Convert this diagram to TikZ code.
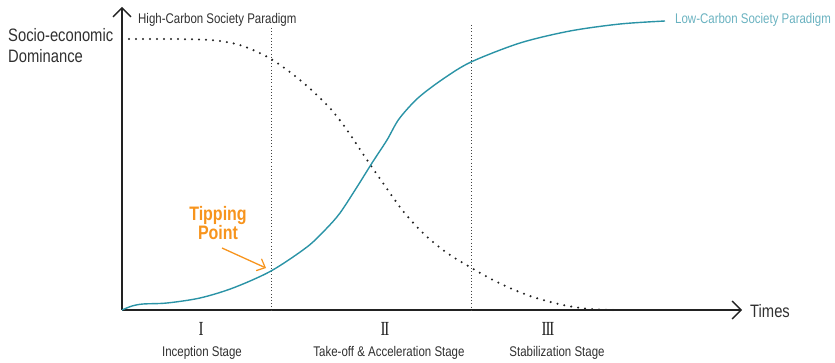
\documentclass[tikz,border=0pt]{standalone}
\usepackage{fontspec}
\setmainfont{Liberation Sans}[FakeStretch=0.82]
\newfontfamily\romanfont{Liberation Serif}[FakeStretch=0.75]
\usetikzlibrary{arrows.meta}
\definecolor{txt}{HTML}{303030}
\definecolor{axis}{HTML}{222222}
\definecolor{teal}{HTML}{2A93A6}
\definecolor{teallabel}{HTML}{6AB2C0}
\definecolor{orng}{HTML}{F7941D}
\tikzset{
  axisline/.style={draw=axis, line width=1.4pt, -{Straight Barb[length=9pt,width=18pt,line width=1.3pt]}},
  stageline/.style={draw=axis!85, line width=1pt, dash pattern=on 1pt off 2.2pt},
  highcurve/.style={draw=axis, line width=2.3pt, line cap=round, dash pattern=on 0pt off 7pt},
  lowcurve/.style={draw=teal, line width=1.4pt},
  lbl/.style={inner sep=0pt, text=txt},
  small/.style={lbl, font=\fontsize{14}{16}\selectfont},
  big/.style={lbl, font=\fontsize{18}{21}\selectfont},
  roman/.style={lbl, text=axis, font=\romanfont\fontsize{20}{22}\selectfont},
  tip/.style={inner sep=0pt, text=orng, font=\bfseries\fontsize{19.5}{21}\selectfont},
}
\begin{document}
\begin{tikzpicture}[x=1pt,y=-1pt]
\useasboundingbox (0,0) rectangle (835,363);
% axes
\coordinate (O) at (122,310);
\coordinate (ytip) at (122,7);
\coordinate (xtip) at (742,310);
\draw[axisline] (O) -- (ytip);
\draw[axisline] (O) -- (xtip);
% stage separators
\coordinate (s1top) at (271,28);
\coordinate (s1bot) at (271,310);
\coordinate (s2top) at (471,25);
\coordinate (s2bot) at (471,310);
\draw[stageline] (s1top) -- (s1bot);
\draw[stageline] (s2top) -- (s2bot);
% high-carbon curve
\draw[highcurve] plot[smooth, tension=0.55] coordinates {
 (122,39) (165,39) (200,39.5) (220,41) (243,46) (271,59) (300,80) (328,106)
 (347,130) (365,157) (383,183) (403,211) (423,233) (443,250) (463,263)
 (497,282) (530,296) (563,305) (590,309) (613,310)};
% low-carbon curve
\draw[lowcurve] plot[smooth, tension=0.5] coordinates {
 (122,310) (132,306) (143,304) (167,303) (200,298) (233,288) (271,271)
 (307,247) (326,229) (340,213) (357,187) (372,163) (387,140) (399,119)
 (418,98) (443,79) (471,62) (520,43) (570,31) (620,24) (665,21)};
% labels
\node[big, anchor=base west] (ylab1) at (8,42) {Socio-economic};
\node[big, anchor=base west] (ylab2) at (8,63) {Dominance};
\node[small, anchor=base west] (high) at (138,24) {High-Carbon Society Paradigm};
\node[small, anchor=base west, text=teallabel] (low) at (675,24) {Low-Carbon Society Paradigm};
\node[big, anchor=base west] (times) at (750,317) {Times};
\node[tip, anchor=base] (tip1) at (218,221) {Tipping};
\node[tip, anchor=base] (tip2) at (218,240) {Point};
\coordinate (tipfrom) at (222,248);
\coordinate (tipto) at (266,268);
\draw[orng, line width=1.3pt, -{Straight Barb[length=7pt,width=13pt,line width=1.2pt]}] (tipfrom) -- (tipto);
% stages
\node[roman, anchor=base] (r1) at (201,335) {I};
\node[roman, anchor=base] (r2) at (385,335) {I\kern-0.06em I};
\node[roman, anchor=base] (r3) at (548,335) {I\kern-0.06em I\kern-0.06em I};
\node[small, anchor=base] (st1) at (202,356) {Inception Stage};
\node[small, anchor=base] (st2) at (389,356) {Take-off \& Acceleration Stage};
\node[small, anchor=base] (st3) at (557,356) {Stabilization Stage};
\end{tikzpicture}
\end{document}
